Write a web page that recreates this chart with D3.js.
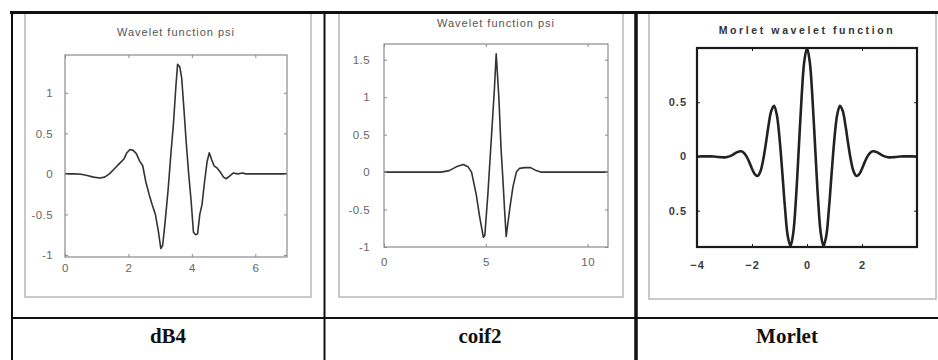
<!DOCTYPE html>
<html>
<head>
<meta charset="utf-8">
<script src="https://cdn.jsdelivr.net/npm/d3@7"></script>
<style>
  html, body { margin: 0; padding: 0; background: #fff; }
  svg { display: block; }
</style>
</head>
<body>
<svg id="chart" width="938" height="360"></svg>
<script>
// ---------------- DATA ----------------
const waveletNames = ["dB4", "coif2", "Morlet"];
const plotTitles = ["Wavelet function psi", "Wavelet function psi", "Morlet wavelet function"];

// dB4 wavelet function psi
const db4X = [0.0, 0.3, 0.5, 0.7, 0.9, 1.1, 1.25, 1.4, 1.55, 1.7, 1.85, 1.95, 2.05, 2.15, 2.25, 2.35, 2.45,
  2.55, 2.65, 2.75, 2.85, 2.95, 3.02, 3.08, 3.15, 3.25, 3.35, 3.42, 3.5, 3.55, 3.62, 3.68, 3.75, 3.82,
  3.9, 3.98, 4.05, 4.12, 4.18, 4.25, 4.32, 4.4, 4.48, 4.55, 4.62, 4.7, 4.8, 4.9, 5.0, 5.08, 5.18, 5.3,
  5.45, 5.6, 5.7, 7.0];
const db4Y = [0, 0, -0.005, -0.02, -0.04, -0.05, -0.04, 0.0, 0.06, 0.12, 0.18, 0.26, 0.30, 0.29, 0.25, 0.16, 0.10,
  -0.10, -0.25, -0.38, -0.50, -0.72, -0.92, -0.88, -0.62, -0.20, 0.30, 0.62, 1.10, 1.35, 1.32, 1.18, 0.80, 0.40,
  0.00, -0.35, -0.72, -0.75, -0.74, -0.50, -0.38, -0.10, 0.15, 0.26, 0.18, 0.10, 0.07, 0.02, -0.04, -0.06, -0.03, 0.01,
  0.0, 0.01, 0.0, 0];
const db4XTicks = [0, 2, 4, 6];
const db4XTickLabels = ["0", "2", "4", "6"];
const db4YTicks = [-1, -0.5, 0, 0.5, 1];
const db4YTickLabels = ["-1", "-0.5", "0", "0.5", "1"];

// coif2 wavelet function psi
const coif2X = [0, 2.8, 3.2, 3.55, 3.88, 4.13, 4.3, 4.53, 4.7, 4.88, 4.95, 5.1, 5.26, 5.42, 5.51, 5.64, 5.75,
  5.84, 5.92, 6.0, 6.17, 6.33, 6.5, 6.66, 6.9, 7.2, 7.47, 7.7, 11];
const coif2Y = [0, 0, 0.02, 0.07, 0.10, 0.07, 0.0, -0.3, -0.6, -0.87, -0.85, -0.3, 0.4, 1.1, 1.58, 1.0, 0.3,
  -0.1, -0.5, -0.86, -0.5, -0.2, 0.0, 0.05, 0.06, 0.06, 0.02, 0, 0];
const coif2XTicks = [0, 5, 10];
const coif2XTickLabels = ["0", "5", "10"];
const coif2YTicks = [-1, -0.5, 0, 0.5, 1, 1.5];
const coif2YTickLabels = ["-1", "-0.5", "0", "0.5", "1", "1.5"];

// Morlet wavelet function
const morletX = [-4.0, -3.9, -3.8, -3.7, -3.6, -3.5, -3.4, -3.3, -3.2, -3.1, -3.0, -2.9, -2.8, -2.7, -2.6, -2.5,
  -2.4, -2.3, -2.2, -2.1, -2.0, -1.9, -1.8, -1.7, -1.6, -1.5, -1.4, -1.3, -1.2, -1.1, -1.0, -0.9, -0.8, -0.7,
  -0.6, -0.5, -0.4, -0.3, -0.2, -0.1, 0.0, 0.1, 0.2, 0.3, 0.4, 0.5, 0.6, 0.7, 0.8, 0.9, 1.0, 1.1, 1.2, 1.3,
  1.4, 1.5, 1.6, 1.7, 1.8, 1.9, 2.0, 2.1, 2.2, 2.3, 2.4, 2.5, 2.6, 2.7, 2.8, 2.9, 3.0, 3.1, 3.2, 3.3, 3.4,
  3.5, 3.6, 3.7, 3.8, 3.9, 4.0];
const morletY = [-0.0001, 0.0001, 0.0005, 0.0009, 0.0010, 0.0005, -0.0009, -0.0030, -0.0057, -0.0081, -0.0084,
  -0.0052, 0.0027, 0.0155, 0.0309, 0.0438, 0.0474, 0.0346, 0.0004, -0.0524, -0.1136, -0.1640, -0.1803, -0.1419,
  -0.0404, 0.1125, 0.2830, 0.4195, 0.4674, 0.3870, 0.1721, -0.1406, -0.4746, -0.7330, -0.8269, -0.7070, -0.3841,
  0.0676, 0.5296, 0.8732, 1.0000, 0.8732, 0.5296, 0.0676, -0.3841, -0.7070, -0.8269, -0.7330, -0.4746, -0.1406,
  0.1721, 0.3870, 0.4674, 0.4195, 0.2830, 0.1125, -0.0404, -0.1419, -0.1803, -0.1640, -0.1136, -0.0524, 0.0004,
  0.0346, 0.0474, 0.0438, 0.0309, 0.0155, 0.0027, -0.0052, -0.0084, -0.0081, -0.0057, -0.0030, -0.0009, 0.0005,
  0.0010, 0.0009, 0.0005, 0.0001, -0.0001];
const morletXTicks = [-4, -2, 0, 2];
const morletXTickLabels = ["\u22124", "\u22122", "0", "2"];
const morletYTicks = [-0.5, 0, 0.5];
const morletYTickLabels = ["0.5", "0", "0.5"];

// ---------------- LAYOUT ----------------
const svg = d3.select("#chart");

const panels = [
  { xs: db4X, ys: db4Y, xt: db4XTicks, xl: db4XTickLabels, yt: db4YTicks, yl: db4YTickLabels,
    box: { l: 65, r: 287, t: 55, b: 257 }, xd: [0, 7], yd: [-1.025, 1.466],
    frame: { l: 25, r: 311, t: 13, b: 297 }, titleY: 36, titleLS: 1.0, labelName: 168,
    style: "light", xLabY: 272, yLabPad: 12 },
  { xs: coif2X, ys: coif2Y, xt: coif2XTicks, xl: coif2XTickLabels, yt: coif2YTicks, yl: coif2YTickLabels,
    box: { l: 384, r: 608, t: 44, b: 247 }, xd: [0, 11], yd: [-1, 1.71],
    frame: { l: 339, r: 623, t: 13, b: 297 }, titleY: 27, titleLS: 1.0, labelName: 480,
    style: "light", xLabY: 266, yLabPad: 14 },
  { xs: morletX, ys: morletY, xt: morletXTicks, xl: morletXTickLabels, yt: morletYTicks, yl: morletYTickLabels,
    box: { l: 697, r: 917, t: 48, b: 247 }, xd: [-4, 4], yd: [-0.835, 1.0],
    frame: { l: 649, r: 936, t: 13, b: 299 }, titleY: 34, titleLS: 2.6, labelName: 787,
    style: "dark", xLabY: 269, yLabPad: 10 }
];

// inner gray frames
panels.forEach(p => {
  svg.append("rect")
    .attr("x", p.frame.l).attr("y", p.frame.t)
    .attr("width", p.frame.r - p.frame.l).attr("height", p.frame.b - p.frame.t)
    .attr("fill", "none").attr("stroke", "#b8b8b8").attr("stroke-width", 1.5);
});

panels.forEach((p, i) => {
  const dark = p.style === "dark";
  const x = d3.scaleLinear().domain(p.xd).range([p.box.l, p.box.r]);
  const y = d3.scaleLinear().domain(p.yd).range([p.box.b, p.box.t]);
  const g = svg.append("g");
  const labColor = dark ? "#3a3a3a" : "#666";
  const boxColor = dark ? "#1a1a1a" : "#8a8a8a";

  const clipId = "clip" + i;
  svg.append("clipPath").attr("id", clipId).append("rect")
    .attr("x", p.box.l).attr("y", p.box.t)
    .attr("width", p.box.r - p.box.l).attr("height", p.box.b - p.box.t);

  // curve
  const line = d3.line()
    .x((d, k) => x(p.xs[k])).y((d, k) => y(p.ys[k]))
    .curve(dark ? d3.curveCatmullRom.alpha(0.5) : d3.curveLinear);
  g.append("path").datum(p.ys)
    .attr("clip-path", `url(#${clipId})`)
    .attr("d", line)
    .attr("fill", "none")
    .attr("stroke", dark ? "#222" : "#333")
    .attr("stroke-width", dark ? 2.6 : 1.6)
    .attr("stroke-linejoin", "round");

  // axes with inward ticks (bottom/left labelled; top/right tick-only)
  const fmtX = v => p.xl[p.xt.indexOf(v)];
  const fmtY = v => p.yl[p.yt.indexOf(v)];
  const axB = g.append("g").attr("transform", `translate(0,${p.box.b})`)
    .call(d3.axisBottom(x).tickValues(p.xt).tickFormat(fmtX).tickSizeInner(-3).tickSizeOuter(0).tickPadding(p.xLabY - p.box.b - 8));
  const axL = g.append("g").attr("transform", `translate(${p.box.l},0)`)
    .call(d3.axisLeft(y).tickValues(p.yt).tickFormat(fmtY).tickSizeInner(-3).tickSizeOuter(0).tickPadding(p.yLabPad));
  const axT = g.append("g").attr("transform", `translate(0,${p.box.t})`)
    .call(d3.axisTop(x).tickValues(p.xt).tickFormat("").tickSizeInner(-3).tickSizeOuter(0));
  const axR = g.append("g").attr("transform", `translate(${p.box.r},0)`)
    .call(d3.axisRight(y).tickValues(p.yt).tickFormat("").tickSizeInner(-3).tickSizeOuter(0));
  [axB, axL, axT, axR].forEach(a => {
    a.select(".domain").remove();
    a.selectAll("line").attr("stroke", boxColor).attr("stroke-width", 1);
    a.selectAll("text")
      .attr("font-family", "Liberation Sans, Arial, sans-serif")
      .attr("font-size", dark ? 11 : 11.5)
      .attr("fill", labColor)
      .attr("letter-spacing", dark ? 1 : 0.4)
      .attr("font-weight", dark ? "bold" : "normal");
  });

  // plot box
  g.append("rect")
    .attr("x", p.box.l).attr("y", p.box.t)
    .attr("width", p.box.r - p.box.l).attr("height", p.box.b - p.box.t)
    .attr("fill", "none").attr("stroke", boxColor).attr("stroke-width", dark ? 2.2 : 1.2);

  // title
  g.append("text")
    .attr("x", (p.box.l + p.box.r) / 2).attr("y", p.titleY)
    .attr("text-anchor", "middle")
    .attr("font-family", "Liberation Sans, Arial, sans-serif")
    .attr("font-size", dark ? 10.5 : 11)
    .attr("font-weight", dark ? "bold" : "normal")
    .attr("letter-spacing", p.titleLS)
    .attr("fill", dark ? "#333" : "#555")
    .text(plotTitles[i]);

  // name in bottom row
  svg.append("text")
    .attr("x", p.labelName).attr("y", 343)
    .attr("text-anchor", "middle")
    .attr("font-family", "Liberation Serif, Times New Roman, serif")
    .attr("font-size", 21).attr("font-weight", "bold")
    .attr("fill", "#111")
    .text(waveletNames[i]);
});

// table lines
const T = svg.append("g").attr("stroke", "#111").attr("fill", "none");
T.append("line").attr("x1", 10).attr("x2", 938).attr("y1", 12.5).attr("y2", 12.5).attr("stroke-width", 3);
T.append("line").attr("x1", 12).attr("x2", 12).attr("y1", 11).attr("y2", 360).attr("stroke-width", 2);
T.append("line").attr("x1", 324.5).attr("x2", 324.5).attr("y1", 11).attr("y2", 360).attr("stroke-width", 2);
T.append("line").attr("x1", 636).attr("x2", 636).attr("y1", 11).attr("y2", 360).attr("stroke-width", 3.5);
T.append("line").attr("x1", 11).attr("x2", 938).attr("y1", 318).attr("y2", 318).attr("stroke-width", 2);
</script>
</body>
</html>
